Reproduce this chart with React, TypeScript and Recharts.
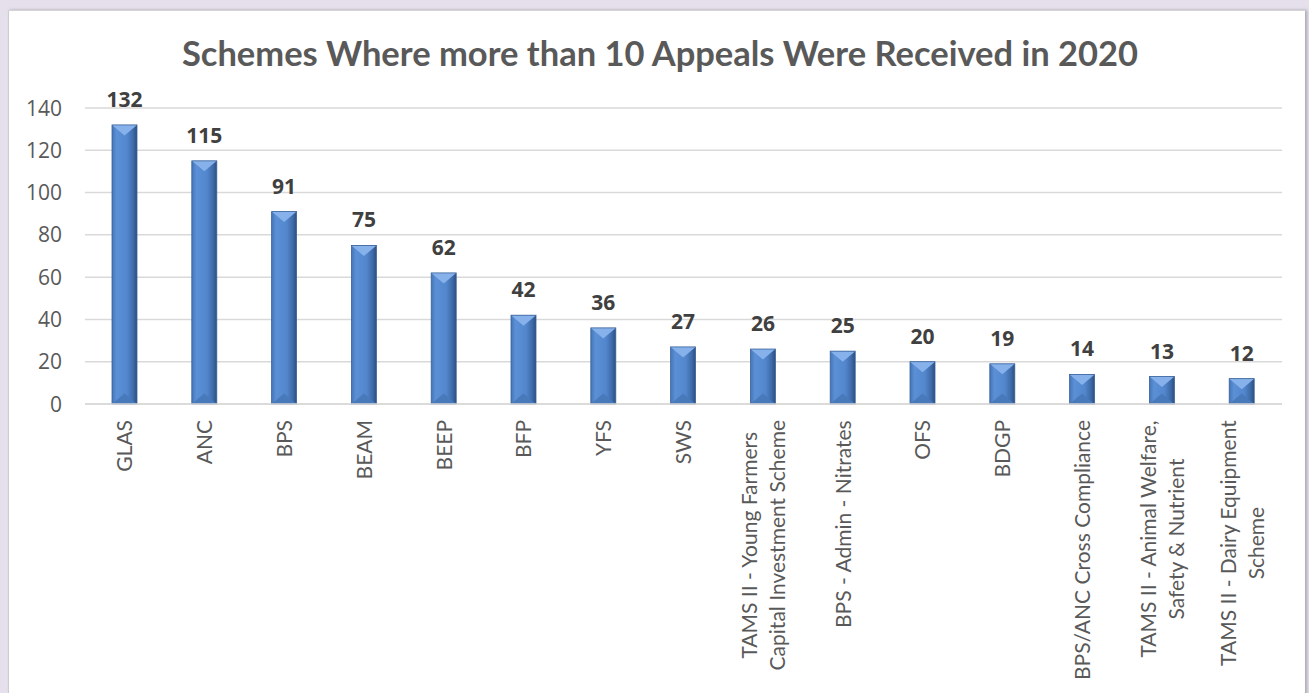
import React from 'react'
import { BarChart, Bar, XAxis, YAxis, CartesianGrid, LabelList } from 'recharts'

const schemes = [
  'GLAS',
  'ANC',
  'BPS',
  'BEAM',
  'BEEP',
  'BFP',
  'YFS',
  'SWS',
  'TAMS II - Young Farmers\nCapital Investment Scheme',
  'BPS - Admin - Nitrates',
  'OFS',
  'BDGP',
  'BPS/ANC Cross Compliance',
  'TAMS II - Animal Welfare,\nSafety & Nutrient',
  'TAMS II - Dairy Equipment\nScheme',
]
const appeals = [132, 115, 91, 75, 62, 42, 36, 27, 26, 25, 20, 19, 14, 13, 12]
const yTicks = [0, 20, 40, 60, 80, 100, 120, 140]

const data = schemes.map((name, i) => ({ name, appeals: appeals[i] }))

const FONT = 'Lato, "Open Sans", sans-serif'
// Calibri digits are tabular; Open Sans has matching fixed-width figures
const NUM_FONT = '"Open Sans", Lato, sans-serif'
const TICK_SIZE = 21

let ctx: CanvasRenderingContext2D | null = null
function measure(text: string) {
  if (!ctx) ctx = document.createElement('canvas').getContext('2d')
  if (!ctx) return text.length * 10
  ctx.font = `${TICK_SIZE}px ${FONT}`
  return ctx.measureText(text).width
}

function SchemeTick(props: any) {
  const { x, y, payload } = props
  const lines: string[] = String(payload.value).split('\n')
  const maxW = Math.max(...lines.map(measure))
  const cy = y + maxW / 2
  const spacing = 28
  const first = 7.5 - ((lines.length - 1) * spacing) / 2
  return (
    <g>
      {lines.map((line, i) => (
        <text
          key={i}
          transform={`translate(${x + first + i * spacing},${cy}) rotate(-90)`}
          textAnchor="middle"
          fill="#595959"
          fontSize={TICK_SIZE}
          fontFamily={FONT}
        >
          {line}
        </text>
      ))}
    </g>
  )
}

function ValueTick(props: any) {
  const { x, y, payload } = props
  return (
    <text x={x} y={y} dy="0.36em" textAnchor="end" fill="#595959" fontSize={21} fontFamily={NUM_FONT}>
      {payload.value}
    </text>
  )
}

function BarValue(props: any) {
  const { x, y, width, value } = props
  return (
    <text
      x={x + width / 2}
      y={y - 18}
      textAnchor="middle"
      fill="#404040"
      fontSize={21}
      fontWeight={700}
      fontFamily={NUM_FONT}
    >
      {value}
    </text>
  )
}

function BevelBar(props: any) {
  const { x, y, width: w, height: h, index } = props
  if (!h || h <= 0) return null
  const b = Math.min(w * 0.42, h / 2)
  const id = `face${index}`
  return (
    <g>
      <defs>
        <linearGradient id={id} x1="0" y1="0" x2="1" y2="0">
          <stop offset="0%" stopColor="#4475b6" />
          <stop offset="18%" stopColor="#5b8fd6" />
          <stop offset="60%" stopColor="#5387cd" />
          <stop offset="85%" stopColor="#3e6aa8" />
          <stop offset="100%" stopColor="#2c4f80" />
        </linearGradient>
      </defs>
      <rect x={x} y={y} width={w} height={h} fill={`url(#${id})`} />
      <polygon points={`${x},${y} ${x + w},${y} ${x + w / 2},${y + b}`} fill="#86b1ea" />
      <polygon points={`${x},${y + h} ${x + w},${y + h} ${x + w / 2},${y + h - b}`} fill="#4879ba" />
      <rect x={x} y={y} width={w} height={h} fill="none" stroke="#3a629b" strokeWidth={0.8} />
    </g>
  )
}

export default function App() {
  return (
    <div style={{ position: 'fixed', left: 0, top: 0, width: 1309, height: 693, background: '#e5e0ec', overflow: 'hidden' }}>
      <div
        style={{
          position: 'absolute', left: 8, top: 10, width: 1296, height: 700,
          background: '#ffffff', borderLeft: '1px solid #cdcdcd', borderTop: '1px solid #d4d4d4',
          boxShadow: '2px 0 3px rgba(0,0,0,0.25)',
        }}
      />
      <div
        style={{
          position: 'absolute', left: 0, top: 36, width: 1320, textAlign: 'center',
          fontFamily: FONT, fontWeight: 700, fontSize: 34.5, lineHeight: '34px', color: '#595959',
        }}
      >
        Schemes Where more than 10 Appeals Were Received in 2020
      </div>
      <div style={{ position: 'absolute', left: 0, top: 0 }}>
        <BarChart width={1309} height={693} data={data} margin={{ top: 108, right: 27, bottom: 0, left: 0 }}>
          <CartesianGrid vertical={false} stroke="#d9d9d9" strokeWidth={1.5} />
          <XAxis
            dataKey="name"
            interval={0}
            height={289}
            tickLine={false}
            tickSize={0}
            tickMargin={16}
            axisLine={{ stroke: '#d9d9d9', strokeWidth: 1.5 }}
            tick={<SchemeTick />}
          />
          <YAxis
            width={85}
            domain={[0, 140]}
            ticks={yTicks}
            axisLine={false}
            tickLine={false}
            tickSize={6}
            tickMargin={17}
            tick={<ValueTick />}
          />
          <Bar dataKey="appeals" barSize={25} shape={<BevelBar />} isAnimationActive={false}>
            <LabelList dataKey="appeals" content={<BarValue />} />
          </Bar>
        </BarChart>
      </div>
    </div>
  )
}
